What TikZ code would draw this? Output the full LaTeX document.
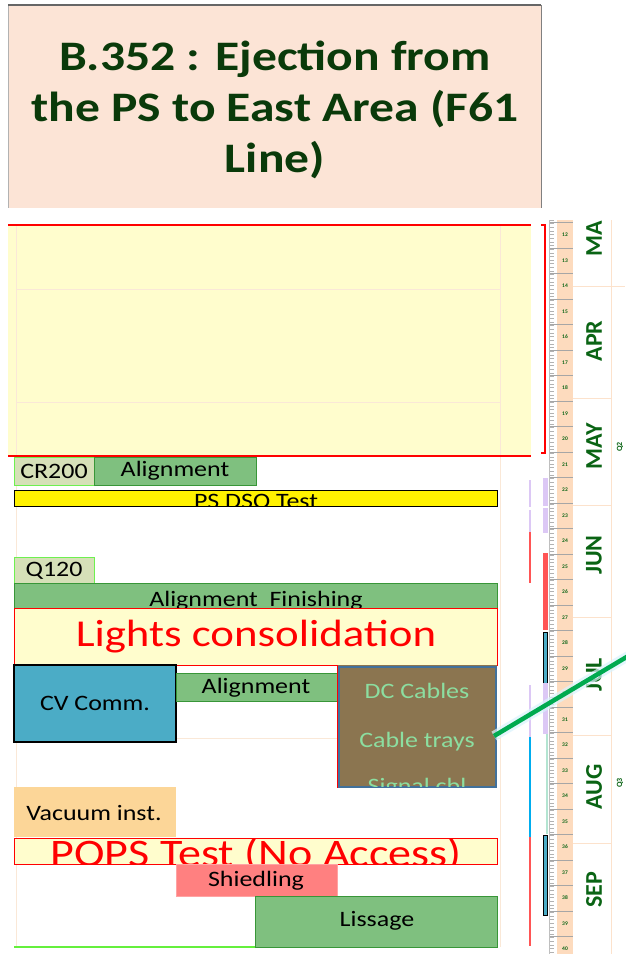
\documentclass[tikz,border=0pt]{standalone}
\usepackage{fontspec}
\setmainfont{Carlito}[FakeStretch=1.18]
\newfontfamily\monthfont{Carlito}
\definecolor{titlebg}{RGB}{252,228,214}
\definecolor{titlefg}{RGB}{10,58,10}
\definecolor{paleyel}{RGB}{255,253,205}
\definecolor{gridc}{RGB}{250,232,215}
\definecolor{bargreen}{RGB}{127,192,127}
\definecolor{barborder}{RGB}{56,150,56}
\definecolor{crfill}{RGB}{214,224,184}
\definecolor{crborder}{RGB}{110,240,80}
\definecolor{tealc}{RGB}{75,172,198}
\definecolor{brownc}{RGB}{139,117,80}
\definecolor{dcborder}{RGB}{65,113,156}
\definecolor{dctext}{RGB}{140,222,160}
\definecolor{vacuumc}{RGB}{252,214,152}
\definecolor{shieldc}{RGB}{255,128,128}
\definecolor{lavc}{RGB}{220,200,245}
\definecolor{peachc}{RGB}{253,219,190}
\definecolor{sepc}{RGB}{252,226,204}
\definecolor{monthc}{RGB}{10,100,20}
\definecolor{redblk}{RGB}{255,85,85}
\definecolor{linegreen}{RGB}{0,170,80}
\definecolor{limec}{RGB}{100,240,60}
\begin{document}
\begin{tikzpicture}[x=1pt,y=-1pt,
  lbl/.style={font=\fontsize{22}{22}\selectfont, inner sep=0pt, text=black},
  big/.style={font=\fontsize{38}{38}\selectfont, inner sep=0pt, text=red},
  dct/.style={font=\fontsize{22}{22}\selectfont, inner sep=0pt, text=dctext},
  bar/.style={draw=barborder, fill=bargreen, line width=1pt},
  month/.style={font=\monthfont\bfseries\fontsize{24}{24}\selectfont, text=monthc, inner sep=0pt, rotate=90},
  wk/.style={font=\monthfont\bfseries\fontsize{5.5}{5.5}\selectfont, text=monthc, inner sep=0pt},
  majtick/.style={draw=gray!70, line width=0.8pt},
  mintick/.style={draw=gray!60, line width=0.5pt},
  grid/.style={draw=gridc, line width=0.8pt}]
\useasboundingbox (0,0) rectangle (625,954);
\fill[white] (0,0) rectangle (625,954);

% title
\fill[titlebg] (8,5) rectangle (541,208);
\draw[gray!60, line width=0.8pt] (8,5) -- (8,208);
\draw[gray!80!black, line width=1.5pt] (8,5) -- (541,5);
\draw[gray, line width=1pt] (541,5) -- (541,208);
\node[font=\bfseries\fontsize{42}{51}\selectfont, text=titlefg, align=center, inner sep=0pt] (title) at (275,110)
  {B.352 : Ejection from\\the PS to East Area (F61\\Line)};

% big yellow area
\fill[paleyel] (8,225) rectangle (531,456);
\draw[grid] (16,225) -- (16,947);
\draw[grid] (500,225) -- (500,947);
\draw[grid] (16,289) -- (500,289);
\draw[grid] (16,402) -- (500,402);
\draw[grid] (16,738) -- (500,738);
\draw[red, line width=1.2pt] (8,225) -- (531,225);
\draw[red, line width=1.2pt] (8,456) -- (531,456);
\draw[red, line width=1.2pt] (541,225) -- (545,225) -- (545,453) -- (541,453);

% CR200 + Alignment
\draw[draw=crborder, fill=crfill, line width=1pt] (14,457) rectangle (94,485);
\node[lbl] (cr200) at (54,471) {CR200};
\draw[bar] (94,457) rectangle (256,485);
\node[lbl] (align1) at (175,471) {Alignment};

% PS DSO Test
\draw[black, fill=yellow, line width=1pt] (14,490) rectangle (497,506);
\begin{scope}
\clip (14,490) rectangle (497,506);
\node[lbl, anchor=base, text depth=0pt] (psdso) at (256,508) {PS DSO Test};
\end{scope}

% Q120
\draw[draw=crborder, fill=crfill, line width=1pt] (14,557) rectangle (94,583);
\node[lbl] (q120) at (54,571) {Q120};

% Alignment Finishing
\draw[bar] (14,583) rectangle (497,608);
\begin{scope}
\clip (14,583) rectangle (497,607);
\node[lbl, anchor=base, text depth=0pt] (alfin) at (256,606) {Alignment\ \ Finishing};
\end{scope}

% Lights consolidation
\draw[red, fill=paleyel, line width=1pt] (14,608) rectangle (497,665);
\node[big] (lights) at (256,637) {Lights consolidation};
\draw[red, line width=1pt] (176,665) rectangle (337,673);

% CV Comm
\draw[black, fill=tealc, line width=1.2pt] (14,665) rectangle (176,742);
\node[lbl] (cvcomm) at (95,703) {CV Comm.};

% Alignment 2
\draw[bar] (176,673) rectangle (337,701);
\node[lbl] (align2) at (256,688) {Alignment};

% DC cables
\fill[brownc] (337,665) rectangle (497,788);
\draw[dcborder, line width=2pt] (339,667) rectangle (496,787);
\draw[red, line width=0.8pt] (337,665) -- (337,788);
\node[dct] (dccables) at (417,691) {DC Cables};
\node[dct] (trays) at (417,742) {Cable trays};
\begin{scope}
\clip (337,665) rectangle (497,786);
\node[dct, anchor=base, text depth=0pt] (signal) at (417,793) {Signal cbl};
\end{scope}

% Vacuum
\fill[vacuumc] (14,787) rectangle (176,837);
\node[lbl] (vacuum) at (94,813) {Vacuum inst.};

% POPS
\draw[red, fill=paleyel, line width=1pt] (14,838) rectangle (497,864);
\begin{scope}
\clip (14,838) rectangle (497,864);
\node[big, font=\fontsize{39}{39}\selectfont, anchor=base, text depth=0pt, text height=22pt] (pops) at (256,866) {POPS Test (No Access)};
\end{scope}

% Shiedling
\draw[draw=shieldc!80!red!60!white, fill=shieldc, line width=0.6pt] (176,864) rectangle (337,896);
\node[lbl] (shield) at (256,881) {Shiedling};

% Lissage
\draw[bar] (255,896) rectangle (497,947);
\node[lbl] (lissage) at (377,921) {Lissage};
\draw[limec, line width=1.5pt] (14,947) -- (255,947);

% right panel
\begin{scope}
\clip (520,220) rectangle (625,954);
\fill[peachc] (557,220) rectangle (573,954);
\foreach \i in {0,...,205} {
  \draw[mintick] (550,{220+\i*3.643}) -- (554,{220+\i*3.643});
}
\foreach \w in {11,...,41} {
  \draw[majtick] (549,{235+(\w-12)*25.5-12.5}) -- (573,{235+(\w-12)*25.5-12.5});
}
\foreach \w in {12,...,40} {
  \node[wk] (wk\w) at (565,{235+(\w-12)*25.5}) {\w};
}
\draw[gray!50, line width=0.5pt] (549,220) -- (549,954);
% month grid
\draw[sepc, line width=1pt] (611,220) -- (611,954);
\draw[sepc, line width=1pt] (573,286) -- (625,286);
\foreach \yy in {398,505,617,735,843} {
  \draw[sepc, line width=1pt] (573,\yy) -- (611,\yy);
}
\node[month] (mar) at (594,232) {MAR};
\node[month] (apr) at (594,341) {APR};
\node[month] (may) at (594,446) {MAY};
\node[month] (jun) at (594,555) {JUN};
\node[month] (jul) at (594,675) {JUL};
\node[month] (aug) at (594,787) {AUG};
\node[month] (sep) at (594,890) {SEP};
\node[wk, font=\monthfont\bfseries\fontsize{8}{8}\selectfont, rotate=90] (q2) at (620,447) {Q2};
\node[wk, font=\monthfont\bfseries\fontsize{8}{8}\selectfont, rotate=90] (q3) at (620,783) {Q3};
% coloured blocks
\fill[lavc] (543,478) rectangle (548,506);
\fill[lavc] (543,508) rectangle (548,533);
\fill[redblk] (543,553) rectangle (548,630);
\draw[black, fill=tealc, line width=1pt] (543,632) rectangle (547,683);
\fill[lavc] (543,683) rectangle (548,734);
\draw[cyan!40!green!30!white, line width=1.5pt] (547,734) -- (547,834);
\draw[black, fill=tealc, line width=1pt] (543,835) rectangle (547,915);
% thin lines
\draw[lavc, line width=1.5pt] (530,480) -- (530,507);
\draw[lavc, line width=1.5pt] (530,510) -- (530,532);
\draw[redblk, line width=1.5pt] (530,532) -- (530,583);
\draw[lavc, line width=1.5pt] (530,685) -- (530,737);
\draw[cyan, line width=1.5pt] (530,737) -- (530,837);
\draw[redblk, line width=1.5pt] (530,837) -- (530,946);
\end{scope}

% green connector
\coordinate (gstart) at (494,736);
\coordinate (gend) at (645,646);
\draw[line width=10pt, cyan!15, opacity=0.7] (gstart) -- (gend);
\draw[line width=4.5pt, linegreen] (gstart) -- (gend);
\end{tikzpicture}
\end{document}
